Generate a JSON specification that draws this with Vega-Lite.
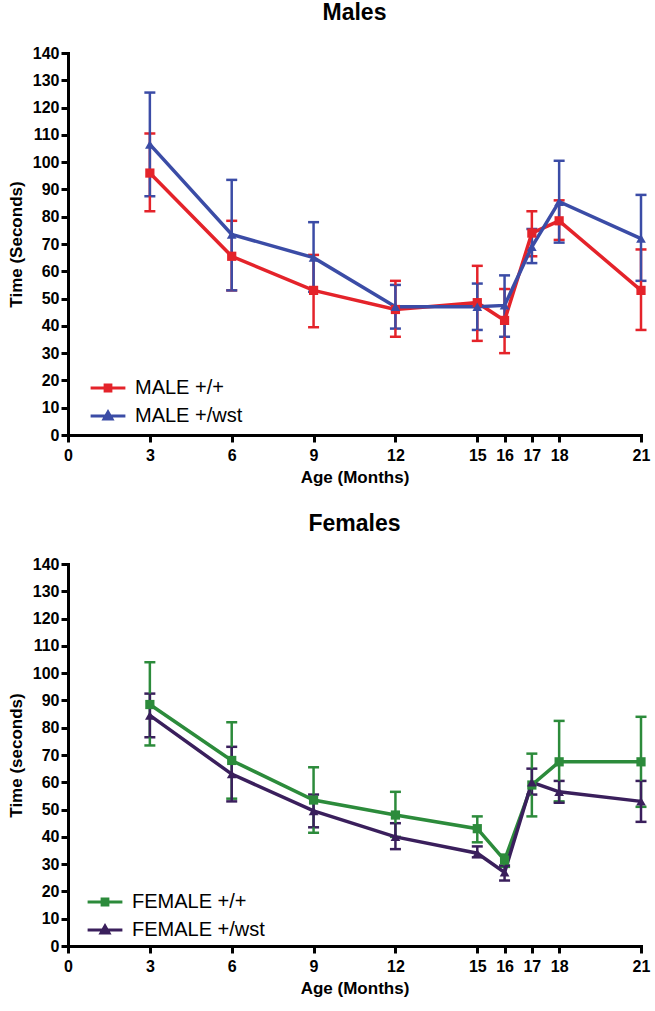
{
  "$schema": "https://vega.github.io/schema/vega-lite/v6.json",
  "padding": {"left": 7, "top": 2, "right": 5, "bottom": 5},
  "background": "white",
  "config": {
    "font": "Liberation Sans",
    "view": {"stroke": null},
    "axis": {
      "grid": false,
      "domainColor": "black",
      "domainWidth": 3,
      "domainCap": "square",
      "tickColor": "black",
      "tickWidth": 3,
      "tickSize": 7,
      "labelFont": "Liberation Sans",
      "labelFontWeight": "bold",
      "labelFontSize": 16,
      "labelColor": "black",
      "labelPadding": 2,
      "labelOverlap": false,
      "titleFont": "Liberation Sans",
      "titleFontSize": 17,
      "titleFontWeight": "bold",
      "titleColor": "black"
    },
    "axisX": {"labelPadding": 5, "titlePadding": 6, "labelFlush": false},
    "axisY": {"titlePadding": 7, "labelFlush": false},
    "title": {"font": "Liberation Sans", "fontSize": 23, "fontWeight": "bold", "color": "black", "offset": 20, "anchor": "middle"},
    "legend": {
      "orient": "none",
      "title": null,
      "padding": 0,
      "labelFont": "Liberation Sans",
      "labelFontSize": 20,
      "labelColor": "black",
      "symbolSize": 144,
      "symbolStrokeWidth": 3,
      "labelOffset": 17,
      "rowPadding": 8
    },
    "concat": {"spacing": 28}
  },
  "datasets": {
    "males": [
      {"series": "MALE +/+", "month": 3, "mean": 96, "lo": 82, "hi": 110.5},
      {"series": "MALE +/+", "month": 6, "mean": 65.5, "lo": 53, "hi": 78.5},
      {"series": "MALE +/+", "month": 9, "mean": 53, "lo": 39.5, "hi": 66},
      {"series": "MALE +/+", "month": 12, "mean": 46, "lo": 36, "hi": 56.5},
      {"series": "MALE +/+", "month": 15, "mean": 48.5, "lo": 34.5, "hi": 62},
      {"series": "MALE +/+", "month": 16, "mean": 42, "lo": 30, "hi": 53.5},
      {"series": "MALE +/+", "month": 17, "mean": 74, "lo": 65.5, "hi": 82},
      {"series": "MALE +/+", "month": 18, "mean": 78.5, "lo": 71.5, "hi": 86},
      {"series": "MALE +/+", "month": 21, "mean": 53, "lo": 38.5, "hi": 68},
      {"series": "MALE +/wst", "month": 3, "mean": 106.5, "lo": 87.5, "hi": 125.5},
      {"series": "MALE +/wst", "month": 6, "mean": 73.5, "lo": 53, "hi": 93.5},
      {"series": "MALE +/wst", "month": 9, "mean": 65, "lo": 52.5, "hi": 78},
      {"series": "MALE +/wst", "month": 12, "mean": 47, "lo": 39, "hi": 55},
      {"series": "MALE +/wst", "month": 15, "mean": 47, "lo": 38.5, "hi": 55.5},
      {"series": "MALE +/wst", "month": 16, "mean": 47.5, "lo": 36, "hi": 58.5},
      {"series": "MALE +/wst", "month": 17, "mean": 69, "lo": 63, "hi": 75.5},
      {"series": "MALE +/wst", "month": 18, "mean": 85.5, "lo": 70.5, "hi": 100.5},
      {"series": "MALE +/wst", "month": 21, "mean": 72, "lo": 56.5, "hi": 88}
    ],
    "females": [
      {"series": "FEMALE +/+", "month": 3, "mean": 88.5, "lo": 73.5, "hi": 104},
      {"series": "FEMALE +/+", "month": 6, "mean": 68, "lo": 54, "hi": 82},
      {"series": "FEMALE +/+", "month": 9, "mean": 53.5, "lo": 41.5, "hi": 65.5},
      {"series": "FEMALE +/+", "month": 12, "mean": 48, "lo": 40, "hi": 56.5},
      {"series": "FEMALE +/+", "month": 15, "mean": 43, "lo": 38, "hi": 47.5},
      {"series": "FEMALE +/+", "month": 16, "mean": 31.5, "lo": 29, "hi": 33.5},
      {"series": "FEMALE +/+", "month": 17, "mean": 59, "lo": 47.5, "hi": 70.5},
      {"series": "FEMALE +/+", "month": 18, "mean": 67.5, "lo": 53, "hi": 82.5},
      {"series": "FEMALE +/+", "month": 21, "mean": 67.5, "lo": 51, "hi": 84},
      {"series": "FEMALE +/wst", "month": 3, "mean": 84.5, "lo": 76.5, "hi": 92.5},
      {"series": "FEMALE +/wst", "month": 6, "mean": 63, "lo": 53, "hi": 73},
      {"series": "FEMALE +/wst", "month": 9, "mean": 49.5, "lo": 43.5, "hi": 55.5},
      {"series": "FEMALE +/wst", "month": 12, "mean": 40, "lo": 35.5, "hi": 45},
      {"series": "FEMALE +/wst", "month": 15, "mean": 34, "lo": 32.5, "hi": 36.5},
      {"series": "FEMALE +/wst", "month": 16, "mean": 27, "lo": 24, "hi": 29.5},
      {"series": "FEMALE +/wst", "month": 17, "mean": 60, "lo": 55.5, "hi": 65},
      {"series": "FEMALE +/wst", "month": 18, "mean": 56.5, "lo": 52.5, "hi": 60.5},
      {"series": "FEMALE +/wst", "month": 21, "mean": 53, "lo": 45.5, "hi": 60.5}
    ]
  },
  "resolve": {"scale": {"color": "independent", "shape": "independent"}, "legend": {"color": "independent", "shape": "independent"}},
  "vconcat": [
    {
      "title": "Males",
      "width": 573,
      "height": 382,
      "data": {"name": "males"},
      "encoding": {
        "x": {"field": "month", "type": "quantitative", "scale": {"domain": [0, 21], "nice": false, "zero": true},
              "axis": {"values": [0, 3, 6, 9, 12, 15, 16, 17, 18, 21], "title": "Age (Months)"}},
        "y": {"field": "mean", "type": "quantitative", "title": "Time (Seconds)",
              "scale": {"domain": [0, 140], "nice": false},
              "axis": {"values": [0, 10, 20, 30, 40, 50, 60, 70, 80, 90, 100, 110, 120, 130, 140]}},
        "color": {"field": "series", "type": "nominal", "scale": {"domain": ["MALE +/+", "MALE +/wst"], "range": ["#E4232A", "#3B4CA6"]},
                  "legend": {"legendX": 30, "legendY": 325, "symbolOpacity": 1}}
      },
      "layer": [
        {"mark": {"type": "errorbar", "thickness": 2.5, "opacity": 1, "rule": {"opacity": 1}, "ticks": {"size": 11, "thickness": 2.5, "opacity": 1}},
         "encoding": {"y": {"field": "lo", "type": "quantitative", "title": "Time (Seconds)",
                             "scale": {"domain": [0, 140], "nice": false},
                             "axis": {"values": [0, 10, 20, 30, 40, 50, 60, 70, 80, 90, 100, 110, 120, 130, 140]}},
                      "y2": {"field": "hi"}}},
        {"mark": {"type": "line", "strokeWidth": 3.5}},
        {"transform": [{"filter": "datum.series === 'MALE +/+'"}],
         "mark": {"type": "point", "filled": true, "opacity": 1, "size": 85, "shape": "square"}},
        {"transform": [{"filter": "datum.series === 'MALE +/wst'"}],
         "mark": {"type": "point", "filled": true, "opacity": 1, "size": 95, "shape": "triangle-up"}},
        {"mark": {"type": "point", "filled": false, "opacity": 0},
         "encoding": {"shape": {"field": "series", "type": "nominal", "scale": {"domain": ["MALE +/+", "MALE +/wst"], "range": ["M-2.9,0L2.9,0M-0.48,-0.48L0.48,-0.48L0.48,0.48L-0.48,0.48ZM-0.48,0L0.48,0", "M-2.9,0L2.9,0M0,-0.66L0.66,0.48L-0.66,0.48ZM-0.35,0.2L0.35,0.2"]},
                                "legend": {"legendX": 30, "legendY": 325, "symbolOpacity": 1}}}}
      ]
    },
    {
      "title": "Females",
      "width": 573,
      "height": 382,
      "data": {"name": "females"},
      "encoding": {
        "x": {"field": "month", "type": "quantitative", "scale": {"domain": [0, 21], "nice": false, "zero": true},
              "axis": {"values": [0, 3, 6, 9, 12, 15, 16, 17, 18, 21], "title": "Age (Months)"}},
        "y": {"field": "mean", "type": "quantitative", "title": "Time (seconds)",
              "scale": {"domain": [0, 140], "nice": false},
              "axis": {"values": [0, 10, 20, 30, 40, 50, 60, 70, 80, 90, 100, 110, 120, 130, 140]}},
        "color": {"field": "series", "type": "nominal", "scale": {"domain": ["FEMALE +/+", "FEMALE +/wst"], "range": ["#2C8B3B", "#3A1F5C"]},
                  "legend": {"legendX": 27, "legendY": 328, "symbolOpacity": 1}}
      },
      "layer": [
        {"mark": {"type": "errorbar", "thickness": 2.5, "opacity": 1, "rule": {"opacity": 1}, "ticks": {"size": 11, "thickness": 2.5, "opacity": 1}},
         "encoding": {"y": {"field": "lo", "type": "quantitative", "title": "Time (seconds)",
                             "scale": {"domain": [0, 140], "nice": false},
                             "axis": {"values": [0, 10, 20, 30, 40, 50, 60, 70, 80, 90, 100, 110, 120, 130, 140]}},
                      "y2": {"field": "hi"}}},
        {"mark": {"type": "line", "strokeWidth": 3.5}},
        {"transform": [{"filter": "datum.series === 'FEMALE +/+'"}],
         "mark": {"type": "point", "filled": true, "opacity": 1, "size": 85, "shape": "square"}},
        {"transform": [{"filter": "datum.series === 'FEMALE +/wst'"}],
         "mark": {"type": "point", "filled": true, "opacity": 1, "size": 95, "shape": "triangle-up"}},
        {"mark": {"type": "point", "filled": false, "opacity": 0},
         "encoding": {"shape": {"field": "series", "type": "nominal", "scale": {"domain": ["FEMALE +/+", "FEMALE +/wst"], "range": ["M-2.9,0L2.9,0M-0.48,-0.48L0.48,-0.48L0.48,0.48L-0.48,0.48ZM-0.48,0L0.48,0", "M-2.9,0L2.9,0M0,-0.66L0.66,0.48L-0.66,0.48ZM-0.35,0.2L0.35,0.2"]},
                                "legend": {"legendX": 27, "legendY": 328, "symbolOpacity": 1}}}}
      ]
    }
  ]
}
